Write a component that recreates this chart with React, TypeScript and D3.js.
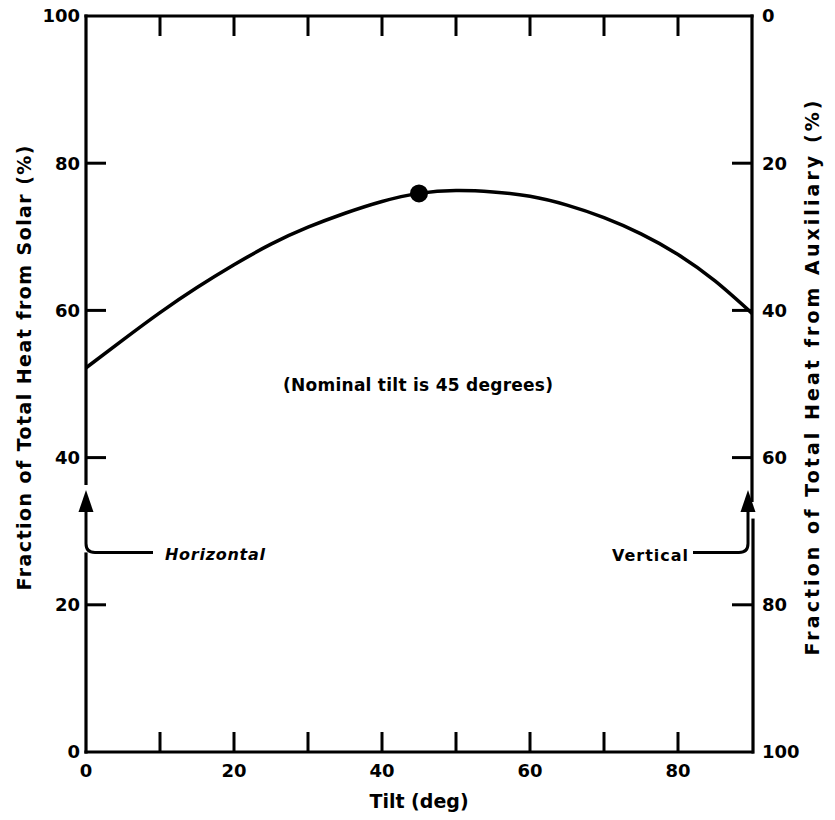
import React, { useRef, useEffect } from 'react';
import * as d3 from 'd3';

// tilt (deg) vs fraction of total heat from solar (%)
const tilts = [0, 5, 10, 15, 20, 25, 30, 35, 40, 45, 50, 55, 60, 65, 70, 75, 80, 85, 90];
const solarFraction = [52.2, 56.0, 59.7, 63.1, 66.2, 69.0, 71.3, 73.2, 74.8, 75.9, 76.3, 76.1, 75.5, 74.3, 72.6, 70.4, 67.6, 64.0, 59.6];

const nominalTilt = 45;
const nominalValue = 75.9;

const xTickValues = [0, 10, 20, 30, 40, 50, 60, 70, 80, 90];
const xTickLabels = ['0', '20', '40', '60', '80'];
const yTickValues = [0, 20, 40, 60, 80, 100];

const FONT = '"DejaVu Sans", sans-serif';

const App = () => {
  const svgRef = useRef<SVGSVGElement | null>(null);
  const width = 835;
  const height = 820;

  useEffect(() => {
    const svg = d3.select(svgRef.current);
    svg.selectAll('*').remove();

    const left = 86, right = 752, top = 16, bottom = 752;

    const x = d3.scaleLinear().domain([0, 90]).range([left, right]);
    const y = d3.scaleLinear().domain([0, 100]).range([bottom, top]);
    const yAux = d3.scaleLinear().domain([100, 0]).range([bottom, top]);

    const g = svg.append('g');
    const stroke = '#000';

    // frame, with gaps where the arrows sit
    const axisSegs: [number, number, number, number][] = [
      [left, top, right, top],
      [left, bottom, right, bottom],
      [left, top, left, y(36.5)],
      [left, y(26.9), left, bottom],
      [right, top, right, y(34.2)],
      [right + 1, y(31.5), right + 1, bottom],
    ];
    axisSegs.forEach(([x1, y1, x2, y2]) => {
      g.append('line')
        .attr('x1', x1).attr('y1', y1).attr('x2', x2).attr('y2', y2)
        .attr('stroke', stroke).attr('stroke-width', 3.2)
        .attr('stroke-linecap', 'square');
    });

    // ticks pointing inwards
    const tickLen = 20;
    xTickValues.slice(1, -1).forEach(v => {
      g.append('line')
        .attr('x1', x(v)).attr('x2', x(v)).attr('y1', top).attr('y2', top + tickLen)
        .attr('stroke', stroke).attr('stroke-width', 3);
      g.append('line')
        .attr('x1', x(v)).attr('x2', x(v)).attr('y1', bottom).attr('y2', bottom - tickLen)
        .attr('stroke', stroke).attr('stroke-width', 3);
    });
    yTickValues.slice(1, -1).forEach(v => {
      g.append('line')
        .attr('x1', left).attr('x2', left + tickLen).attr('y1', y(v)).attr('y2', y(v))
        .attr('stroke', stroke).attr('stroke-width', 3);
      g.append('line')
        .attr('x1', right).attr('x2', right - tickLen).attr('y1', y(v)).attr('y2', y(v))
        .attr('stroke', stroke).attr('stroke-width', 3);
    });

    const labelStyle = (s: any, size = 18) =>
      s.attr('font-family', FONT).attr('font-weight', 'bold').attr('font-size', size).attr('fill', stroke);

    // x tick labels
    xTickLabels.forEach(t => {
      labelStyle(g.append('text'))
        .attr('x', x(+t)).attr('y', 777)
        .attr('text-anchor', 'middle')
        .text(t);
    });

    // left tick labels
    yTickValues.forEach(v => {
      labelStyle(g.append('text'))
        .attr('x', 80).attr('y', y(v)).attr('dy', '0.36em')
        .attr('text-anchor', 'end')
        .text(String(v));
    });

    // right tick labels (auxiliary)
    yTickValues.forEach(v => {
      labelStyle(g.append('text'))
        .attr('x', 762).attr('y', yAux(v)).attr('dy', '0.36em')
        .attr('text-anchor', 'start')
        .text(String(v));
    });

    // axis titles
    labelStyle(g.append('text'), 19)
      .attr('x', (left + right) / 2).attr('y', 808)
      .attr('text-anchor', 'middle')
      .text('Tilt (deg)');

    labelStyle(g.append('text'), 19)
      .attr('transform', `translate(31,${368}) rotate(-90)`)
      .attr('text-anchor', 'middle')
      .attr('textLength', 445).attr('lengthAdjust', 'spacing')
      .text('Fraction of Total Heat from Solar (%)');

    labelStyle(g.append('text'), 19)
      .attr('transform', `translate(819,${378}) rotate(-90)`)
      .attr('text-anchor', 'middle')
      .attr('textLength', 555).attr('lengthAdjust', 'spacing')
      .text('Fraction of Total Heat from Auxiliary (%)');

    // curve
    const data = tilts.map((t, i) => ({ x: t, y: solarFraction[i] }));
    const line = d3.line<{ x: number; y: number }>()
      .x(d => x(d.x))
      .y(d => y(d.y))
      .curve(d3.curveNatural);

    g.append('path')
      .datum(data)
      .attr('fill', 'none')
      .attr('stroke', stroke)
      .attr('stroke-width', 3.5)
      .attr('d', line);

    g.append('circle')
      .attr('cx', x(nominalTilt)).attr('cy', y(nominalValue))
      .attr('r', 9).attr('fill', stroke);

    labelStyle(g.append('text'), 17)
      .attr('x', 418).attr('y', 391)
      .attr('text-anchor', 'middle')
      .attr('textLength', 270).attr('lengthAdjust', 'spacing')
      .text('(Nominal tilt is 45 degrees)');

    // arrows
    const drawArrow = (ax: number, dir: number, endX: number) => {
      const tipY = y(35.6);
      const baseY = y(32.6);
      const bendY = y(27.1);
      g.append('path')
        .attr('d', `M${ax},${tipY} L${ax - 7.5},${baseY} L${ax + 7.5},${baseY} Z`)
        .attr('fill', stroke);
      g.append('path')
        .attr('d', `M${ax},${baseY} L${ax},${bendY - 9} Q${ax},${bendY} ${ax + dir * 9},${bendY} L${endX},${bendY}`)
        .attr('fill', 'none').attr('stroke', stroke).attr('stroke-width', 3);
    };
    drawArrow(left, 1, 153);
    drawArrow(right - 4, -1, 693);

    labelStyle(g.append('text'), 16)
      .attr('x', 165).attr('y', 560)
      .attr('font-style', 'italic')
      .attr('textLength', 100).attr('lengthAdjust', 'spacing')
      .text('Horizontal');

    labelStyle(g.append('text'), 16)
      .attr('x', 688).attr('y', 561)
      .attr('text-anchor', 'end')
      .attr('textLength', 76).attr('lengthAdjust', 'spacing')
      .text('Vertical');
  }, []);

  return (
    <svg
      ref={svgRef}
      width={width}
      height={height}
      style={{ position: 'absolute', left: 0, top: 0, background: '#fff' }}
    />
  );
};

export default App;
